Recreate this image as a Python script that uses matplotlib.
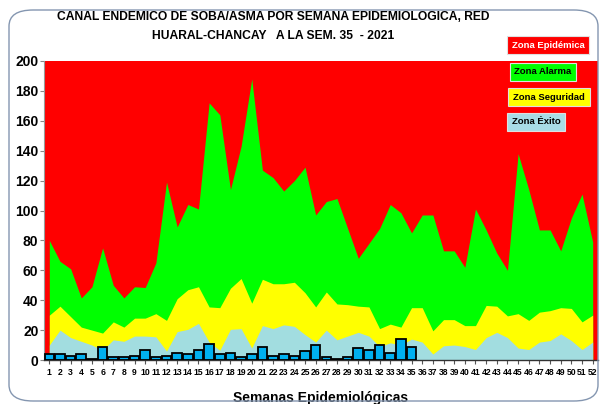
import numpy as np
import matplotlib.pyplot as plt
from matplotlib.patches import FancyBboxPatch

weeks = np.arange(1, 53)

# upper limits of each zone
alarma = [80, 66, 61, 41.5, 49, 75, 50, 41.5, 49, 48.5,
          65, 119, 89, 104, 101, 172, 164, 114, 143, 188,
          127, 122, 113, 120, 129, 97, 106, 108, 88, 68,
          78, 88, 104, 98.5, 85, 97, 97, 73, 73, 62,
          101, 87, 71.5, 60, 138, 114, 87, 87, 73, 95,
          111, 79]
seguridad = [30, 36, 29, 22, 20, 18, 25.5, 22, 28, 28,
             31, 26.5, 41, 47, 49, 35.5, 35, 48, 54.5, 38,
             54, 51, 51, 52, 45, 35.5, 45.5, 37.5, 37, 36,
             35.5, 21, 24, 22, 35, 35, 19.5, 27, 27, 23,
             23, 36.5, 36, 29.5, 31, 26.5, 32, 33, 35, 34.5,
             25.5, 30]
exito = [10, 20, 15, 12.5, 10, 6.5, 13.5, 12.5, 16, 16,
         15.5, 6, 19, 20.5, 24.5, 12, 6.5, 20.5, 21, 8,
         23, 21, 23.5, 22.5, 17, 12, 20, 13.5, 16, 18.5,
         16, 9, 11.5, 10, 14, 12, 4, 9.5, 10, 9,
         7, 15, 18.5, 15, 8, 7, 12, 13, 17.5, 13,
         7, 12]

# casos 2021, semanas 1-35
casos = [4, 4, 3, 4, 1, 9, 2, 2, 3, 7,
         2, 3, 5, 4, 7, 11, 4, 5, 2, 4,
         9, 3, 4, 3, 6, 10, 2, 1, 2, 8,
         7, 10, 5, 14, 9]

titulo = "CANAL ENDEMICO DE SOBA/ASMA POR SEMANA EPIDEMIOLOGICA, RED\nHUARAL-CHANCAY   A LA SEM. 35  - 2021"

narrow = ['Liberation Sans Narrow', 'Liberation Sans', 'DejaVu Sans']

fig = plt.figure(figsize=(6.03, 4.04), dpi=100)
fig.patch.set_facecolor('white')

# rounded chart border
border = FancyBboxPatch((9 / 603, 3 / 404), 589 / 603, 391 / 404,
                        boxstyle="round,pad=0,rounding_size=0.04",
                        transform=fig.transFigure, fill=False,
                        edgecolor='#8496b0', linewidth=1.0)
fig.patches.append(border)

ax = fig.add_axes([44 / 603, 44 / 404, 554 / 603, 299 / 404])
ax.set_facecolor('#FF0000')

ax.fill_between(weeks, alarma, 200, color='#FF0000', linewidth=0)
ax.fill_between(weeks, 0, alarma, color='#00FF00', linewidth=0)
ax.fill_between(weeks, 0, seguridad, color='#FFFF00', linewidth=0)
ax.fill_between(weeks, 0, exito, color='#A2DDE0', linewidth=0)

ax.bar(weeks[:len(casos)], casos, width=0.9, color='#00B0F0',
       edgecolor='black', linewidth=1.3, zorder=3)

ax.set_xlim(0.5, 52.5)
ax.set_ylim(0, 200)
ax.set_yticks(range(0, 201, 20))
ax.set_xticks(weeks)
ax.set_xticklabels([str(w) for w in weeks], fontsize=6.2,
                   fontweight='bold', family=narrow)
ax.set_yticklabels([str(v) for v in range(0, 201, 20)], fontsize=10,
                   fontweight='bold', family=narrow)
ax.tick_params(axis='x', length=3, width=0.8, pad=3, color='#555555')
ax.tick_params(axis='y', length=3, width=0.8, pad=1, color='#888888')
for s in ['top', 'right']:
    ax.spines[s].set_visible(False)
ax.spines['left'].set_color('#999999')
ax.spines['bottom'].set_color('#333333')
ax.spines['bottom'].set_linewidth(1.0)

ax.set_xlabel('Semanas Epidemiológicas', fontsize=10, fontweight='bold',
              family=narrow, labelpad=10)

fig.text(0.453, 0.972, titulo, ha='center', va='top', fontsize=8.7,
         fontweight='bold', family=narrow, linespacing=1.75)

# legend boxes
legend = [("Zona Epidémica", '#FF0000', 'white', 548, 45),
          ("Zona Alarma", '#00FF00', 'black', 543, 72),
          ("Zona Seguridad", '#FFFF00', 'black', 549, 97),
          ("Zona Éxito", '#A8DCE6', 'black', 536, 122)]
for txt, fc, tc, x, y in legend:
    fig.text(x / 603, 1 - y / 404, txt, ha='center', va='center',
             fontsize=6.8, fontweight='bold', color=tc, family=narrow,
             bbox=dict(boxstyle='square,pad=0.5', fc=fc,
                       ec='#e0e0e0', lw=0.8))

fig.savefig('out.png', dpi=100)
